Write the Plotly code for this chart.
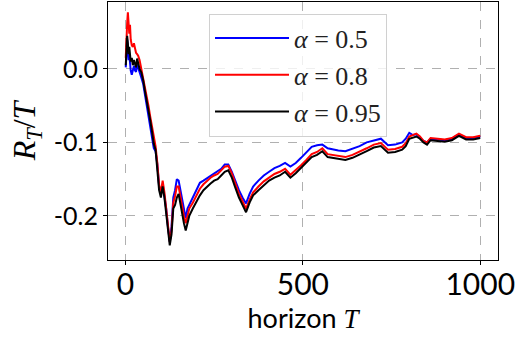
import plotly.graph_objects as go

horizon = [1,3,5,7,9,11,13,15,18,21,24,27,30,33,36,40,45,50,55,60,65,70,75,80,85,90,95,100,
           105,110,115,120,125,130,135,140,145,150,155,160,165,170,175,180,190,200,210,220,230,
           240,250,260,270,280,290,300,310,320,330,340,350,360,375,390,405,420,435,450,465,480,
           495,510,525,540,555,570,585,600,620,640,660,680,700,720,740,760,780,790,800,810,820,
           830,840,850,860,880,900,920,940,960,980,1000]

ratio_a05 = [0.002,0.025,0.04,0.028,0.012,0.02,0.008,-0.002,-0.008,-0.002,0.004,-0.002,-0.004,0.006,0.002,
             -0.005,-0.012,-0.02,-0.035,-0.048,-0.062,-0.078,-0.092,-0.108,-0.112,-0.13,-0.16,-0.17,
             -0.156,-0.17,-0.19,-0.215,-0.235,-0.215,-0.175,-0.165,-0.15,-0.152,-0.165,-0.178,-0.19,-0.203,
             -0.19,-0.185,-0.177,-0.165,-0.155,-0.152,-0.149,-0.146,-0.143,-0.14,-0.136,-0.13,-0.13,-0.14,
             -0.153,-0.165,-0.175,-0.183,-0.17,-0.16,-0.152,-0.145,-0.14,-0.135,-0.132,-0.128,-0.133,-0.128,
             -0.121,-0.114,-0.106,-0.104,-0.103,-0.108,-0.11,-0.111,-0.112,-0.109,-0.105,-0.1,-0.097,-0.095,
             -0.104,-0.103,-0.1,-0.095,-0.087,-0.09,-0.089,-0.093,-0.098,-0.1,-0.095,-0.096,-0.097,-0.095,
             -0.089,-0.094,-0.094,-0.092]

ratio_a08 = [0.015,0.05,0.062,0.077,0.055,0.048,0.06,0.04,0.032,0.03,0.035,0.028,0.022,0.02,0.018,
             0.012,0.0,-0.012,-0.025,-0.038,-0.05,-0.065,-0.08,-0.095,-0.105,-0.128,-0.158,-0.168,
             -0.152,-0.168,-0.19,-0.215,-0.235,-0.22,-0.182,-0.173,-0.16,-0.16,-0.175,-0.185,-0.2,-0.21,
             -0.2,-0.19,-0.182,-0.172,-0.163,-0.157,-0.152,-0.148,-0.145,-0.143,-0.138,-0.133,-0.132,-0.142,
             -0.156,-0.17,-0.18,-0.19,-0.178,-0.168,-0.16,-0.153,-0.148,-0.143,-0.14,-0.136,-0.144,-0.138,
             -0.131,-0.124,-0.116,-0.113,-0.108,-0.116,-0.117,-0.118,-0.12,-0.117,-0.113,-0.108,-0.103,-0.101,
             -0.11,-0.109,-0.106,-0.101,-0.092,-0.09,-0.088,-0.092,-0.098,-0.1,-0.094,-0.095,-0.096,-0.094,
             -0.088,-0.093,-0.093,-0.091]

ratio_a095 = [0.005,0.03,0.045,0.035,0.02,0.03,0.018,0.01,0.015,0.005,0.012,0.008,0.002,0.014,0.008,
              0.0,-0.005,-0.015,-0.03,-0.042,-0.055,-0.07,-0.085,-0.102,-0.11,-0.135,-0.165,-0.175,
              -0.16,-0.175,-0.195,-0.22,-0.24,-0.225,-0.19,-0.185,-0.175,-0.17,-0.185,-0.195,-0.21,-0.22,
              -0.21,-0.2,-0.19,-0.18,-0.172,-0.165,-0.16,-0.156,-0.152,-0.15,-0.145,-0.14,-0.138,-0.148,
              -0.162,-0.175,-0.185,-0.195,-0.182,-0.172,-0.165,-0.158,-0.152,-0.148,-0.145,-0.14,-0.148,-0.142,
              -0.135,-0.128,-0.12,-0.117,-0.112,-0.12,-0.121,-0.122,-0.124,-0.121,-0.117,-0.112,-0.107,-0.105,
              -0.114,-0.113,-0.11,-0.105,-0.095,-0.093,-0.092,-0.095,-0.1,-0.103,-0.097,-0.098,-0.099,-0.097,
              -0.091,-0.096,-0.096,-0.094]

series_names = ["<i>α</i> = 0.5", "<i>α</i> = 0.8", "<i>α</i> = 0.95"]
series_colors = ["#0000ff", "#ff0000", "#000000"]
xtick_vals = [0, 500, 1000]
xtick_text = ["0", "500", "1000"]
ytick_vals = [0.0, -0.1, -0.2]
ytick_text = ["0.0", "-0.1", "-0.2"]

fig = go.Figure()
for i, (ys, name, col) in enumerate(zip([ratio_a05, ratio_a08, ratio_a095], series_names, series_colors)):
    fig.add_trace(go.Scatter(x=horizon, y=ys, mode="lines", name=name,
                             line=dict(color=col, width=2), legendgroup=str(i)))

sans = "Lato, DejaVu Sans, sans-serif"
serif = "Liberation Serif, DejaVu Serif, serif"

fig.update_layout(
    width=527, height=339,
    margin=dict(l=108, r=29, t=2, b=79, autoexpand=False),
    paper_bgcolor="white", plot_bgcolor="white",
    showlegend=True,
    legend=dict(x=0.259, y=0.955, xanchor="left", yanchor="top",
                bgcolor="rgba(255,255,255,0.8)", bordercolor="#d0d0d0", borderwidth=1,
                font=dict(family=serif, size=26, color="#222"),
                itemwidth=74, tracegroupgap=0),
    xaxis=dict(range=[-49, 1050], tickvals=xtick_vals, ticktext=xtick_text, automargin=False,
               showline=True, linecolor="black", linewidth=1, mirror=True,
               ticks="outside", ticklen=4, tickcolor="black", ticklabelstandoff=-6,
               showgrid=True, gridcolor="#b0b0b0", griddash="dash", gridwidth=1,
               zeroline=False,
               tickfont=dict(family=sans, size=30, color="black"),
               title=dict(text="horizon <span style='font-family:Liberation Serif'><i>T</i></span>",
                          font=dict(family=sans, size=27, color="black"), standoff=0)),
    yaxis=dict(range=[-0.26, 0.091], tickvals=ytick_vals, ticktext=ytick_text, automargin=False,
               showline=True, linecolor="black", linewidth=1, mirror=True,
               ticks="outside", ticklen=4, tickcolor="black",
               showgrid=True, gridcolor="#b0b0b0", griddash="dash", gridwidth=1,
               zeroline=False,
               tickfont=dict(family=sans, size=25, color="black"),
               title=dict(text="<i>R</i><sub><i>T</i></sub>/<i>T</i>",
                          font=dict(family=serif, size=32, color="black"), standoff=8)),
)

fig.write_html("out.html", config={"displayModeBar": False},
               post_script="document.body.style.margin='0';")
